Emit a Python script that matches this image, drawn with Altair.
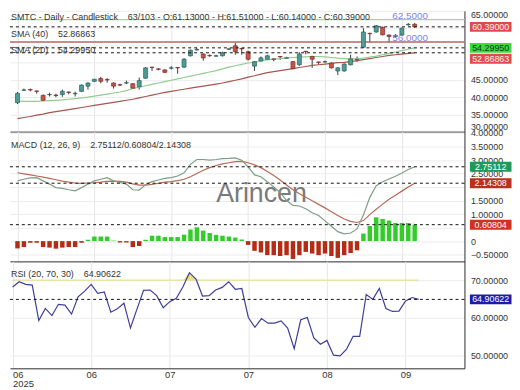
import altair as alt
import pandas as pd

FONT = "Liberation Sans"
W = 459
H_PRICE, H_MACD, H_RSI = 122, 131, 108

# ---------------- data ----------------
opens = [38.4, 42.0, 42.2, 41.8, 40.5, 40.7, 40.6, 40.8, 41.5, 41.0,
         41.7, 43.2, 44.6, 45.4, 45.1, 44.1, 43.6, 44.1, 43.9, 43.0,
         45.5, 48.7, 48.2, 47.9, 48.4, 48.6, 48.7, 52.0, 53.7, 52.5,
         52.1, 51.9, 52.0, 53.9, 54.9, 54.1, 53.2, 49.0, 50.5, 51.0,
         51.1, 51.8, 51.3, 50.3, 49.4, 53.3, 51.8, 50.2, 50.2, 49.9,
         47.6, 47.6, 49.4, 50.9, 54.5, 58.5, 58.9, 60.2, 58.0, 57.6,
         58.0, 61.0, 61.13]
highs = [41.5, 42.5, 42.5, 41.9, 40.8, 41.3, 41.0, 42.2, 41.6, 41.6,
         43.7, 44.3, 45.3, 45.9, 45.5, 44.3, 43.9, 44.8, 44.1, 45.7,
         48.7, 48.8, 48.4, 48.1, 49.0, 48.7, 51.3, 53.8, 54.3, 52.7,
         52.4, 52.3, 53.2, 54.2, 55.8, 54.2, 53.5, 50.5, 51.8, 52.3,
         51.2, 51.9, 51.7, 50.5, 53.0, 53.4, 52.0, 50.3, 50.6, 50.1,
         48.7, 49.8, 52.3, 51.8, 60.0, 58.7, 60.9, 60.5, 58.2, 58.3,
         60.2, 61.5, 61.51]
lows = [38.0, 41.8, 41.7, 41.0, 38.9, 40.2, 40.0, 40.1, 40.8, 40.2,
        41.5, 42.2, 44.4, 44.0, 44.2, 42.5, 43.3, 43.8, 42.4, 42.2,
        45.3, 47.6, 47.8, 47.0, 48.0, 46.8, 48.5, 51.8, 53.5, 50.6,
        51.7, 51.7, 51.8, 53.8, 52.3, 52.3, 50.6, 47.6, 50.3, 50.8,
        50.4, 50.8, 51.2, 48.1, 49.1, 52.4, 48.5, 49.4, 50.0, 48.3,
        46.4, 47.4, 49.2, 50.2, 54.3, 55.8, 58.7, 57.9, 55.8, 57.2,
        57.8, 60.7, 60.14]
closes = [41.1, 42.1, 42.1, 41.7, 39.1, 40.8, 40.5, 41.7, 41.4, 41.1,
          43.5, 44.1, 45.2, 44.6, 45.0, 43.2, 43.5, 44.2, 42.6, 44.8,
          48.5, 48.6, 48.1, 47.2, 48.5, 48.5, 51.0, 53.6, 53.8, 51.4,
          52.0, 52.0, 52.9, 54.0, 53.2, 54.0, 51.0, 50.3, 51.4, 52.0,
          51.0, 51.7, 51.4, 48.3, 52.5, 53.2, 51.0, 50.1, 50.3, 48.5,
          48.5, 49.6, 51.1, 51.0, 58.9, 58.4, 60.7, 58.1, 57.6, 57.9,
          60.0, 61.1, 60.39]
sma20 = [38.8, 38.8, 38.8, 38.8, 38.9, 39.0, 39.1, 39.2, 39.4, 39.6,
         39.8, 40.0, 40.3, 40.6, 40.9, 41.2, 41.5, 41.9, 42.5, 42.9,
         43.3, 43.7, 44.1, 44.5, 44.9, 45.3, 45.7, 46.1, 46.5, 46.9,
         47.3, 47.7, 48.2, 48.7, 49.1, 49.5, 49.9, 50.2, 50.5, 50.8,
         51.0, 51.2, 51.4, 51.5, 51.6, 51.7, 51.8, 51.8, 51.7, 51.5,
         51.3, 51.2, 51.1, 51.1, 51.3, 51.6, 51.9, 52.3, 52.7, 53.1,
         53.5, 53.9, 54.2995]
sma40 = [33.8, 34.1, 34.4, 34.8, 35.1, 35.5, 35.8, 36.1, 36.4, 36.7,
         37.0, 37.3, 37.6, 37.9, 38.2, 38.5, 38.8, 39.1, 39.4, 39.8,
         40.2, 40.6, 41.0, 41.4, 41.7, 42.0, 42.3, 42.6, 42.9, 43.2,
         43.5, 43.8, 44.1, 44.5, 44.9, 45.3, 45.8, 46.2, 46.7, 47.1,
         47.4, 47.7, 48.0, 48.3, 48.6, 48.9, 49.2, 49.4, 49.6, 49.8,
         50.0, 50.1, 50.3, 50.6, 50.9, 51.2, 51.5, 51.8, 52.1, 52.3,
         52.5, 52.7, 52.86863]
macd_line = [2.23, 2.29, 2.34, 2.35, 2.23, 2.11, 1.98, 1.95, 1.90, 1.86,
             1.98, 2.11, 2.23, 2.29, 2.35, 2.23, 2.17, 2.11, 1.90, 1.89,
             2.09, 2.20, 2.26, 2.32, 2.35, 2.41, 2.53, 2.84, 3.02, 3.02,
             3.00, 3.02, 3.05, 3.06, 3.08, 2.99, 2.75, 2.45, 2.38, 2.20,
             2.00, 1.80, 1.50, 1.32, 1.30, 1.20, 1.05, 0.95, 0.75, 0.55,
             0.35, 0.27, 0.30, 0.45, 0.97, 1.62, 2.05, 2.20, 2.30, 2.40,
             2.52, 2.65, 2.75112]
signal_line = [2.53, 2.49, 2.45, 2.41, 2.37, 2.32, 2.27, 2.22, 2.18, 2.15,
               2.14, 2.15, 2.16, 2.18, 2.21, 2.22, 2.21, 2.18, 2.12, 2.07,
               2.07, 2.10, 2.14, 2.18, 2.20, 2.24, 2.29, 2.38, 2.50, 2.62,
               2.72, 2.80, 2.86, 2.90, 2.94, 2.95, 2.90, 2.82, 2.72, 2.58,
               2.43, 2.26, 2.08, 1.90, 1.75, 1.62, 1.49, 1.36, 1.23, 1.09,
               0.95, 0.82, 0.73, 0.69, 0.76, 0.98, 1.18, 1.37, 1.55, 1.70,
               1.85, 2.00, 2.14308]
histogram = [-0.27, -0.22, -0.06, -0.06, -0.22, -0.24, -0.28, -0.24, -0.22, -0.22,
             -0.06, 0.05, 0.17, 0.17, 0.17, 0.02, -0.05, -0.05, -0.22, -0.18,
             0.05, 0.20, 0.20, 0.15, 0.15, 0.15, 0.24, 0.43, 0.51, 0.39,
             0.30, 0.23, 0.20, 0.17, 0.13, 0.06, -0.14, -0.36, -0.42, -0.52,
             -0.52, -0.55, -0.52, -0.66, -0.52, -0.40, -0.46, -0.52, -0.46, -0.55,
             -0.62, -0.52, -0.44, -0.34, 0.28, 0.56, 0.88, 0.82, 0.76, 0.67,
             0.67, 0.67, 0.60804]
rsi_line = [68.2, 69.6, 68.9, 68.7, 59.3, 62.5, 60.6, 63.6, 63.4, 61.0,
            65.6, 67.1, 68.9, 66.5, 66.9, 61.5, 62.4, 63.9, 57.3, 62.4,
            67.3, 67.4, 65.9, 62.7, 64.3, 65.2, 68.2, 72.0, 70.3, 65.8,
            65.9, 67.4, 68.1, 69.6, 67.6, 67.8, 60.1, 57.5, 59.8, 58.6,
            58.6, 59.2, 57.3, 51.8, 59.5, 60.1, 54.7, 53.0, 54.0, 50.1,
            49.9, 51.7, 55.1, 55.1, 66.2, 64.9, 67.8, 62.5, 61.7, 61.8,
            64.5, 65.4, 64.90622]

tick_index = [0, 12, 24, 36, 48, 60]
tick_month = ["06", "06", "07", "07", "08", "09"]
tick_year = "2025"

price_ticks = [30, 35, 40, 45, 50, 55, 60, 65]
price_hidden_labels = [50, 60]          # covered by the value boxes
macd_ticks = [-0.5, 0, 0.5, 1.0, 1.5, 2.0, 2.5, 3.0, 3.5, 4.0]
macd_hidden_labels = [0.5, 2.0]         # covered by the value boxes
rsi_ticks = [50, 60, 70]

level_values = [62.5, 56.0]
level_colors = ["#a3d39e", "#bb6460"]
level_texts = ["62.5000", "56.0000"]

price_last = [60.39, 54.2995, 52.86863]
price_last_text = ["60.39000", "54.29950", "52.86863"]
price_box_fill = ["#dc4b4b", "#3fd83f", "#e04a4a"]
price_box_ink = ["#fff0f0", "#0d3a12", "#fff0f0"]
price_box_shift = [0, 0, 6]

macd_last = [2.75112, 2.14308, 0.60804]
macd_last_text = ["2.75112", "2.14308", "0.60804"]
macd_box_fill = ["#1f9a5c", "#b8301f", "#d0321f"]
macd_box_ink = ["#ffffff", "#ffffff", "#ffffff"]
macd_box_shift = [0, 0, 0]

rsi_last = [64.90622]
rsi_last_text = ["64.90622"]
rsi_box_fill = ["#1c1ca8"]
rsi_box_ink = ["#ffffff"]
rsi_box_shift = [0]
rsi_over = 70

title_text = "SMTC - Daily - Candlestick\u00a0\u00a0\u00a0\u00a063/103 - O:61.13000 - H:61.51000 - L:60.14000 - C:60.39000"
sma40_text = "SMA (40)\u00a0\u00a0\u00a0\u00a052.86863"
sma20_text = "SMA (20)\u00a0\u00a0\u00a0\u00a054.29950"
macd_text = "MACD (12, 26, 9)\u00a0\u00a0\u00a0\u00a02.75112/0.60804/2.14308"
rsi_text = "RSI (20, 70, 30)\u00a0\u00a0\u00a0\u00a064.90622"
watermark = "Arincen"

# ---------------- table ----------------
n = len(closes)
df = pd.DataFrame({"i": list(range(n)), "o": opens, "h": highs, "l": lows, "c": closes,
                   "sma20": sma20, "sma40": sma40, "macd": macd_line,
                   "signal": signal_line, "hist": histogram, "rsi": rsi_line})

GRID = "#e6e6e6"
AXLINE = "#2b2b2b"
LABEL = "#333333"

xscale = alt.Scale(domain=[-0.4, 69.0], nice=False, zero=False)
pscale = alt.Scale(domain=[30, 65.02], nice=False, zero=False)
mscale = alt.Scale(domain=[-0.75, 4.05], nice=False, zero=False)
rscale = alt.Scale(domain=[46.6, 75], nice=False, zero=False)

parts = []
for k, (v, m) in enumerate(zip(tick_index, tick_month)):
    if k == 0:
        parts.append(f"datum.value == {v} ? ['{m}', '{tick_year}']")
    else:
        parts.append(f"datum.value == {v} ? '{m}'")
x_label_expr = " : ".join(parts) + " : ''"


def hide_expr(hidden, zero_plain=False):
    conds = [f"abs(datum.value - {h}) < 1e-9" for h in hidden]
    fmt = "format(datum.value, '.5f')"
    if zero_plain:
        fmt = f"(datum.value == 0 ? '0' : {fmt})"
    if not conds:
        return fmt
    return "(" + " || ".join(conds) + ") ? '' : " + fmt


x_axis_hidden = alt.Axis(values=tick_index, labels=False, ticks=False, domain=True,
                         domainColor=AXLINE, grid=True, gridColor=GRID, title=None)
x_axis_shown = alt.Axis(values=tick_index, labelExpr=x_label_expr, labelFlush=6,
                        ticks=False, domain=True, domainColor=AXLINE, grid=True,
                        gridColor=GRID, title=None, labelColor=LABEL, labelFont=FONT,
                        labelFontSize=9.5, labelPadding=1, labelLineHeight=9.5,
                        labelOverlap=False, labelBaseline="top")


def y_axis(values, expr, flush=False):
    kw = dict(orient="right", values=values, ticks=False, labelPadding=6, domain=True,
              domainColor=AXLINE, grid=True, gridColor="#ececec", title=None,
              labelColor=LABEL, labelFont=FONT, labelFontSize=9, labelOverlap=False,
              labelExpr=expr)
    if flush:
        kw["labelFlush"] = True
    return alt.Axis(**kw)


def panel(xaxis, yscale, yaxis, layers_fn, height):
    def XE(field="i:Q"):
        return alt.X(field, scale=xscale, axis=xaxis)

    def YE(field):
        return alt.Y(field, scale=yscale, axis=yaxis)
    return alt.layer(*layers_fn(XE, YE)).properties(width=W, height=height)


def boxes(YE, values, texts, fills, inks, shifts):
    out = []
    for v, t, f, k, s in zip(values, texts, fills, inks, shifts):
        d = alt.Chart(pd.DataFrame({"v": [v], "t": [t]}))
        out.append(d.mark_tick(orient="horizontal", size=42, thickness=10, color=f,
                               opacity=1, yOffset=s).encode(
            x=alt.value(W + 26.5), y=YE("v:Q")))
        out.append(d.mark_text(font=FONT, fontSize=9, color=k, align="center",
                               baseline="middle", yOffset=s).encode(
            x=alt.value(W + 26.5), y=YE("v:Q"), text="t:N"))
    return out


def label(text, x, y, size=9, color=LABEL):
    return alt.Chart(pd.DataFrame({"t": [text]})).mark_text(
        font=FONT, fontSize=size, color=color, align="left", baseline="middle").encode(
        x=alt.value(x), y=alt.value(y), text="t:N")


base = alt.Chart(df)
up = "datum.c >= datum.o"


def price_layers(XE, YE):
    wicks = base.mark_rule(color="#3a3a3a", strokeWidth=1).encode(
        x=XE(), y=YE("l:Q"), y2="h:Q")
    levels_df = pd.DataFrame({"v": level_values, "col": level_colors, "t": level_texts})
    levels = alt.Chart(levels_df).mark_rule(strokeWidth=1.3).encode(
        y=YE("v:Q"), color=alt.Color("col:N", scale=None))
    level_txt = alt.Chart(levels_df).mark_text(
        font=FONT, fontSize=10, color="#7f7ff2", align="left", baseline="alphabetic",
        dy=-1).encode(x=alt.value(386), y=YE("v:Q"), text="t:N")
    l40 = base.mark_line(color="#a5574f", strokeWidth=1.2).encode(x=XE(), y=YE("sma40:Q"))
    l20 = base.mark_line(color="#92cc8e", strokeWidth=1.2).encode(x=XE(), y=YE("sma20:Q"))
    bodies = base.mark_bar(size=4, strokeWidth=0.7).encode(
        x=XE(), y=YE("o:Q"), y2="c:Q",
        color=alt.condition(up, alt.value("#4d9c96"), alt.value("#c9544a")),
        stroke=alt.condition(up, alt.value("#2c5e5a"), alt.value("#7c2a25")))
    dash = alt.Chart(pd.DataFrame({"v": price_last})).mark_rule(
        color="#111111", strokeDash=[3, 3], strokeWidth=1).encode(y=YE("v:Q"))
    return [wicks, levels, l40, l20, bodies, dash, level_txt,
            label(title_text, 1, 6), label(sma40_text, 1, 23), label(sma20_text, 1, 40),
            *boxes(YE, price_last, price_last_text, price_box_fill, price_box_ink,
                   price_box_shift)]


def macd_layers(XE, YE):
    hist = base.mark_bar(size=4.5).encode(
        x=XE(), y=YE("hist:Q"), y2=alt.datum(0),
        color=alt.condition("datum.hist >= 0", alt.value("#33cc2a"), alt.value("#b52c16")))
    wm = alt.Chart(pd.DataFrame({"t": [watermark]})).mark_text(
        font=FONT, fontSize=27, color="#7a7a7a", align="center",
        baseline="alphabetic").encode(x=alt.value(254), y=alt.value(71), text="t:N")
    m_line = base.mark_line(color="#7f9e86", strokeWidth=1.2).encode(x=XE(), y=YE("macd:Q"))
    s_line = base.mark_line(color="#b56a55", strokeWidth=1.2).encode(x=XE(), y=YE("signal:Q"))
    dash = alt.Chart(pd.DataFrame({"v": macd_last})).mark_rule(
        color="#111111", strokeDash=[3, 3], strokeWidth=1).encode(y=YE("v:Q"))
    return [hist, wm, s_line, m_line, dash, label(macd_text, 1, 13),
            *boxes(YE, macd_last, macd_last_text, macd_box_fill, macd_box_ink,
                   macd_box_shift)]


def rsi_layers(XE, YE):
    over = base.transform_calculate(top=f"max(datum.rsi, {rsi_over})").mark_area(
        color="#e6dc6a", opacity=0.85).encode(x=XE(), y=YE("top:Q"), y2=alt.datum(rsi_over))
    lvl = alt.Chart(pd.DataFrame({"a": [0], "b": [n - 1], "v": [rsi_over]})).mark_rule(
        color="#e8e3a6", strokeWidth=1.6).encode(x=XE("a:Q"), x2="b:Q", y=YE("v:Q"))
    r_line = base.mark_line(color="#3d3d9c", strokeWidth=1.2).encode(x=XE(), y=YE("rsi:Q"))
    dash = alt.Chart(pd.DataFrame({"v": rsi_last})).mark_rule(
        color="#111111", strokeDash=[3, 3], strokeWidth=1).encode(y=YE("v:Q"))
    return [over, lvl, r_line, dash, label(rsi_text, 1, 13),
            *boxes(YE, rsi_last, rsi_last_text, rsi_box_fill, rsi_box_ink, rsi_box_shift)]


price = panel(x_axis_hidden, pscale,
              y_axis(price_ticks, hide_expr(price_hidden_labels), flush=True),
              price_layers, H_PRICE)
macd = panel(x_axis_hidden, mscale,
             y_axis(macd_ticks, hide_expr(macd_hidden_labels, zero_plain=True)),
             macd_layers, H_MACD)
rsi = panel(x_axis_shown, rscale, y_axis(rsi_ticks, hide_expr([])), rsi_layers, H_RSI)

chart = alt.vconcat(price, macd, rsi, spacing=0, bounds="flush").properties(
    padding={"left": 0, "top": 0, "right": 0, "bottom": 0}
).configure(font=FONT).configure_view(stroke="transparent")

chart.save("out.html", embed_options={"renderer": "svg", "actions": False})
